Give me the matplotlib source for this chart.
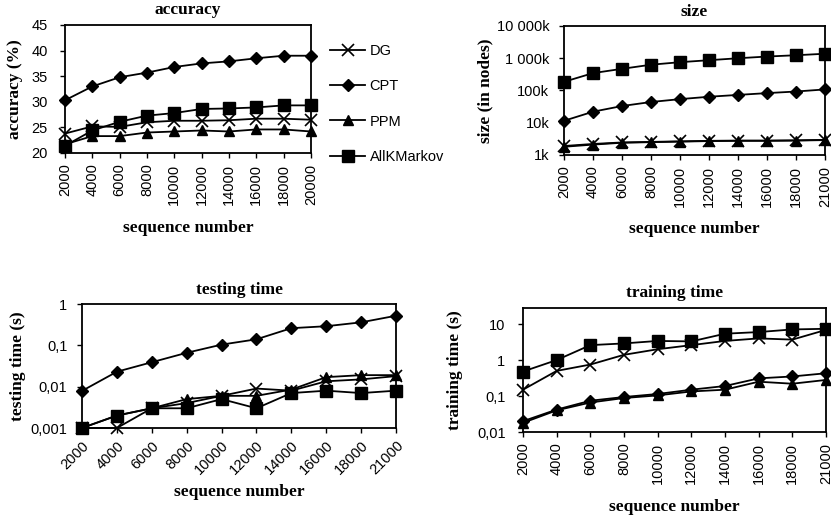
import matplotlib
matplotlib.use("Agg")
import matplotlib.pyplot as plt
import numpy as np

# ---------------- data ----------------
series_names = ["DG", "CPT", "PPM", "AllKMarkov"]
x_acc = ["2000", "4000", "6000", "8000", "10000", "12000", "14000", "16000", "18000", "20000"]
x_other = ["2000", "4000", "6000", "8000", "10000", "12000", "14000", "16000", "18000", "21000"]

acc_dg = [23.8, 25.2, 25.1, 26.0, 26.3, 26.3, 26.4, 26.7, 26.7, 26.5]
acc_cpt = [30.3, 33.0, 34.8, 35.7, 36.8, 37.5, 37.9, 38.5, 39.0, 39.0]
acc_ppm = [21.7, 23.3, 23.3, 24.0, 24.2, 24.4, 24.2, 24.6, 24.6, 24.2]
acc_akm = [21.4, 24.4, 26.1, 27.3, 27.8, 28.6, 28.7, 28.9, 29.3, 29.3]

size_dg = [1.9, 2.2, 2.45, 2.55, 2.65, 2.75, 2.8, 2.8, 2.85, 2.95]
size_cpt = [11.5, 22, 33, 44, 54, 64, 73, 83, 93, 108]
size_ppm = [1.8, 2.1, 2.4, 2.5, 2.6, 2.7, 2.75, 2.75, 2.8, 2.9]
size_akm = [186, 346, 470, 630, 755, 870, 1000, 1130, 1240, 1380]

test_dg = [0.001, 0.001, 0.003, 0.004, 0.006, 0.009, 0.008, 0.0135, 0.015, 0.018]
test_cpt = [0.0079, 0.023, 0.039, 0.066, 0.104, 0.14, 0.26, 0.29, 0.36, 0.52]
test_ppm = [0.001, 0.002, 0.003, 0.005, 0.006, 0.006, 0.0085, 0.017, 0.019, 0.019]
test_akm = [0.001, 0.002, 0.003, 0.003, 0.005, 0.003, 0.007, 0.008, 0.007, 0.008]

train_dg = [0.15, 0.5, 0.75, 1.4, 2.0, 2.6, 3.4, 4.0, 3.7, 6.9]
train_cpt = [0.02, 0.042, 0.074, 0.094, 0.114, 0.15, 0.19, 0.31, 0.35, 0.43]
train_ppm = [0.018, 0.04, 0.066, 0.088, 0.104, 0.134, 0.15, 0.25, 0.22, 0.28]
train_akm = [0.48, 1.0, 2.6, 2.9, 3.4, 3.3, 5.4, 6.0, 7.1, 7.4]

# ---------------- style ----------------
SANS = "Liberation Sans"
SERIF = "Liberation Serif"
plt.rcParams["font.family"] = SANS
markers = {"DG": dict(marker="x", ms=8, mew=1.2),
           "CPT": dict(marker="D", ms=6),
           "PPM": dict(marker="^", ms=6.5),
           "AllKMarkov": dict(marker="s", ms=8)}
TICK_FS = 10.5
LAB_FS = 12.5

fig = plt.figure(figsize=(8.31, 5.18), dpi=100)


def make_ax(l, r, t, b):
    W, H = 831.0, 518.0
    return fig.add_axes([l / W, 1 - b / H, (r - l) / W, (b - t) / H])


def style(ax, cats, title, ylabel, xlab_y, ylab_x, title_y, rot=90, ypad=7):
    n = len(cats)
    ax.set_xlim(0, n - 1)
    ax.set_xticks(range(n))
    if rot == 90:
        ax.set_xticklabels(cats, rotation=90, fontsize=TICK_FS)
    else:
        ax.set_xticklabels(cats, rotation=45, ha="right", rotation_mode="anchor", fontsize=TICK_FS)
    ax.tick_params(axis="both", direction="out", length=3.6, width=1, labelsize=TICK_FS)
    ax.tick_params(axis="x", pad=4)
    ax.tick_params(axis="y", pad=ypad)
    for s in ax.spines.values():
        s.set_linewidth(1.3)
        s.set_color("black")
    ax.text(0.5, title_y, title, transform=ax.transAxes, ha="center", va="center",
            fontsize=LAB_FS, fontweight="bold", family=SERIF)
    ax.text(0.5, xlab_y, "sequence number", transform=ax.transAxes, ha="center", va="center",
            fontsize=LAB_FS, fontweight="bold", family=SERIF)
    ax.text(ylab_x, 0.5, ylabel, transform=ax.transAxes, ha="center", va="center",
            rotation=90, fontsize=LAB_FS, fontweight="bold", family=SERIF)


def plot_series(ax, data, log=False):
    lines = []
    for name, vals in zip(series_names, data):
        ln, = ax.plot(range(len(vals)), vals, color="black", lw=1.3,
                      mfc="black", mec="black", clip_on=False, label=name, **markers[name])
        lines.append(ln)
    if log:
        ax.set_yscale("log")
    return lines


# accuracy
ax1 = make_ax(65, 311, 25, 153)
lines = plot_series(ax1, [acc_dg, acc_cpt, acc_ppm, acc_akm])
ax1.set_ylim(20, 45)
ax1.set_yticks([20, 25, 30, 35, 40, 45])
style(ax1, x_acc, "accuracy", "accuracy (%)", -0.586, -0.203, 1.117, ypad=9)

# size
ax2 = make_ax(564, 825, 26, 155)
plot_series(ax2, [size_dg, size_cpt, size_ppm, size_akm], log=True)
ax2.set_ylim(1, 10000)
ax2.set_yticks([1, 10, 100, 1000, 10000])
ax2.set_yticklabels(["1k", "10k", "100k", "1 000k", "10 000k"])
ax2.minorticks_off()
style(ax2, x_other, "size", "size (in nodes)", -0.574, -0.303, 1.109)

# testing time
ax3 = make_ax(82, 396, 304, 428)
plot_series(ax3, [test_dg, test_cpt, test_ppm, test_akm], log=True)
ax3.set_ylim(0.001, 1)
ax3.set_yticks([0.001, 0.01, 0.1, 1])
ax3.set_yticklabels(["0,001", "0,01", "0,1", "1"])
ax3.minorticks_off()
style(ax3, x_other, "testing time", "testing time (s)", -0.516, -0.204, 1.113, rot=45)

# training time
ax4 = make_ax(523, 826, 308, 432)
plot_series(ax4, [train_dg, train_cpt, train_ppm, train_akm], log=True)
ax4.set_ylim(0.01, 28)
ax4.set_yticks([0.01, 0.1, 1, 10])
ax4.set_yticklabels(["0,01", "0,1", "1", "10"])
ax4.minorticks_off()
style(ax4, x_other, "training time", "training time (s)", -0.605, -0.224, 1.12, ypad=9)

fig.legend(handles=lines, labels=series_names, loc="upper left",
           bbox_to_anchor=(323 / 831, 1 - 37 / 518), frameon=False, borderpad=0,
           handlelength=2.4, handletextpad=0.3, labelspacing=1.45,
           prop={"family": SANS, "size": TICK_FS})

fig.savefig("out.png", dpi=100)
